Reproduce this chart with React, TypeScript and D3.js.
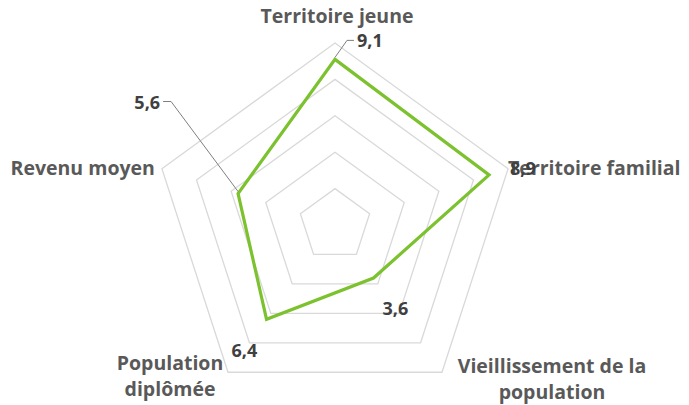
import React from "react";
import * as d3 from "d3";

const categories = [
  "Territoire jeune",
  "Territoire familial",
  "Vieillissement de la population",
  "Population diplômée",
  "Revenu moyen",
];
const values = [9.1, 8.9, 3.6, 6.4, 5.6];
const valueLabels = ["9,1", "8,9", "3,6", "6,4", "5,6"];
const gridLevels = [2, 4, 6, 8, 10];

const W = 689;
const H = 405;
const cx = 335;
const cy = 225;
const R = 182;

const FONT = "'Open Sans', Lato, sans-serif";
const LABEL_COLOR = "#595959";
const VALUE_COLOR = "#404040";

export default function App() {
  const r = d3.scaleLinear().domain([0, 10]).range([0, R]);
  const angle = d3
    .scaleLinear()
    .domain([0, categories.length])
    .range([0, 2 * Math.PI]);

  const pt = (i: number, v: number): [number, number] => {
    const a = angle(i);
    return [cx + r(v) * Math.sin(a), cy - r(v) * Math.cos(a)];
  };

  const lineGen = d3
    .line<[number, number]>()
    .x((d) => d[0])
    .y((d) => d[1])
    .curve(d3.curveLinearClosed);

  const gridPaths = gridLevels.map((lv) =>
    lineGen(categories.map((_, i) => pt(i, lv)))
  );
  const dataPts = values.map((v, i) => pt(i, v));
  const dataPath = lineGen(dataPts);

  const outer = categories.map((_, i) => pt(i, 10));

  // axis label layout (anchor, dx, dy from outer vertex, lines)
  const labelLayout = [
    { anchor: "middle", dx: 2, dy: -20, lines: ["Territoire jeune"] },
    { anchor: "start", dx: 0, dy: 6, lines: ["Territoire familial"] },
    { anchor: "middle", dx: 110, dy: 1, lines: ["Vieillissement de la", "population"] },
    { anchor: "middle", dx: -58, dy: -2, lines: ["Population", "diplômée"] },
    { anchor: "end", dx: -7, dy: 6, lines: ["Revenu moyen"] },
  ];

  // value label layout relative to data point
  const valueLayout = [
    { anchor: "start", dx: 22, dy: -12, leader: true },
    { anchor: "start", dx: 21, dy: 0, leader: false },
    { anchor: "start", dx: 9, dy: 37, leader: false },
    { anchor: "start", dx: -35, dy: 38, leader: false },
    { anchor: "end", dx: -78, dy: -85, leader: true },
  ];

  return (
    <svg
      width={W}
      height={H}
      style={{ position: "absolute", left: 0, top: 0, background: "#ffffff" }}
    >
      <rect x={0} y={0} width={W} height={H} fill="#ffffff" />
      {gridPaths.map((d, i) => (
        <path key={i} d={d || ""} fill="none" stroke="#d9d9d9" strokeWidth={1.3} />
      ))}
      <path
        d={dataPath || ""}
        fill="none"
        stroke="#7cc12e"
        strokeWidth={3.2}
        strokeLinejoin="miter"
      />
      {/* leader lines */}
      {valueLayout.map((vl, i) => {
        if (!vl.leader) return null;
        const [px, py] = dataPts[i];
        const lx = px + vl.dx;
        const ly = py + vl.dy - 7;
        const endX = vl.anchor === "start" ? lx - 3 : lx + 3;
        const hx = vl.anchor === "start" ? endX - 7 : endX + 8;
        return (
          <polyline
            key={"ld" + i}
            points={`${endX},${ly} ${hx},${ly} ${px},${py - 2}`}
            fill="none"
            stroke="#7f7f7f"
            strokeWidth={1}
          />
        );
      })}
      {labelLayout.map((l, i) => {
        const [ox, oy] = outer[i];
        return (
          <text
            key={"lab" + i}
            x={ox + l.dx}
            y={oy + l.dy}
            textAnchor={l.anchor as any}
            fontFamily={FONT}
            fontWeight="bold"
            fontSize={19.5}
            fill={LABEL_COLOR}
          >
            {l.lines.map((ln, j) => (
              <tspan key={j} x={ox + l.dx} dy={j === 0 ? 0 : 26}>
                {ln}
              </tspan>
            ))}
          </text>
        );
      })}
      {valueLayout.map((vl, i) => {
        const [px, py] = dataPts[i];
        return (
          <text
            key={"v" + i}
            x={px + vl.dx}
            y={py + vl.dy}
            textAnchor={vl.anchor as any}
            fontFamily={FONT}
            fontWeight="bold"
            fontSize={18}
            fill={VALUE_COLOR}
          >
            {valueLabels[i]}
          </text>
        );
      })}
    </svg>
  );
}
